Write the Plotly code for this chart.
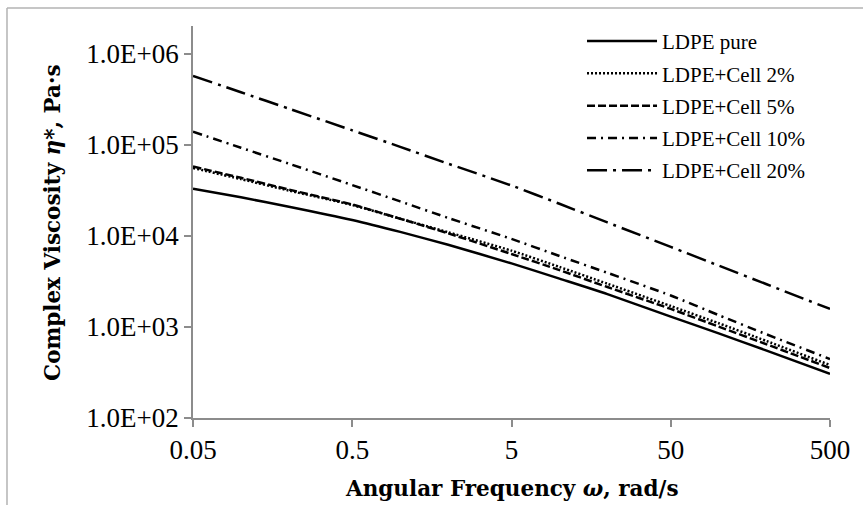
import plotly.graph_objects as go

# Angular frequency sweep (rad/s)
freq = [0.05, 0.1, 0.2, 0.5, 1, 2, 5, 10, 20, 50, 100, 200, 500]

# Complex viscosity (Pa·s) for each formulation
ldpe_pure = [33000, 26600, 21000, 15000, 11100, 8000, 5000, 3400, 2300, 1300, 850, 550, 305]
cell_2 = [56000, 42200, 31600, 21900, 15500, 11000, 6900, 4570, 2990, 1700, 1100, 700, 382]
cell_5 = [58000, 43600, 32400, 22200, 15500, 10700, 6340, 4220, 2750, 1580, 1010, 645, 354]
cell_10 = [140000, 93300, 62400, 36300, 24000, 15800, 9290, 6030, 3940, 2220, 1350, 830, 445]
cell_20 = [575000, 380000, 251000, 145000, 95500, 62400, 35900, 22600, 14100, 7590, 4730, 2950, 1580]

names = ["LDPE pure", "LDPE+Cell 2%", "LDPE+Cell 5%", "LDPE+Cell 10%", "LDPE+Cell 20%"]
series = [ldpe_pure, cell_2, cell_5, cell_10, cell_20]
dashes = ["solid", "2px,2px", "8px,3px", "9px,5px,2px,5px", "20px,6px,3px,6px"]

x_ticks = [0.05, 0.5, 5, 50, 500]
x_tick_text = ["0.05", "0.5", "5", "50", "500"]
y_ticks = [1e2, 1e3, 1e4, 1e5, 1e6]
y_tick_text = ["1.0E+02", "1.0E+03", "1.0E+04", "1.0E+05", "1.0E+06"]

fig = go.Figure()
for i, (name, vals, dash) in enumerate(zip(names, series, dashes)):
    fig.add_trace(go.Scatter(
        x=freq, y=vals, name=name, mode="lines",
        line=dict(color="black", width=2.5, dash=dash, shape="spline", smoothing=0.6),
        legendgroup=f"g{i}",
    ))

axis_color = "#8c8c8c"
tick_font = dict(family="Liberation Serif", size=27, color="black")
title_font = dict(family="DejaVu Serif", size=21.5, color="black")
frame = dict(color="#b3b3b3", width=1.5)

fig.update_layout(
    width=863, height=505,
    margin=dict(l=193, r=33, t=26, b=87),
    paper_bgcolor="white", plot_bgcolor="white",
    showlegend=True,
    legend=dict(
        x=0.6107, y=1.013, xanchor="left", yanchor="top",
        font=dict(family="Liberation Serif", size=21, color="black"),
        bgcolor="rgba(0,0,0,0)", itemwidth=70, tracegroupgap=2,
        traceorder="grouped",
    ),
    xaxis=dict(
        type="log", range=[-1.30103, 2.69897],
        tickvals=x_ticks, ticktext=x_tick_text, tickfont=tick_font,
        showgrid=False, zeroline=False,
        showline=True, linecolor=axis_color, linewidth=1.8,
        ticks="outside", ticklen=7, tickwidth=1.8, tickcolor=axis_color,
    ),
    yaxis=dict(
        type="log", range=[2, 6.308],
        tickvals=y_ticks, ticktext=y_tick_text, tickfont=tick_font,
        showgrid=False, zeroline=False,
        showline=True, linecolor=axis_color, linewidth=1.8,
        ticks="outside", ticklen=7, tickwidth=1.8, tickcolor=axis_color,
    ),
    annotations=[
        dict(
            text="<b>Angular Frequency <i>ω</i>, rad/s</b>",
            xref="paper", yref="paper", x=0.5, y=-0.1786,
            xanchor="center", yanchor="middle", showarrow=False, font=title_font,
        ),
        dict(
            text="<b>Complex Viscosity <i>η</i>*, Pa·s</b>",
            xref="paper", yref="paper", x=-0.2214, y=0.5, textangle=-90,
            xanchor="center", yanchor="middle", showarrow=False, font=title_font,
        ),
    ],
    shapes=[
        # chart frame: left and top edges
        dict(type="line", xref="paper", yref="paper",
             x0=-0.292, x1=-0.292, y0=1.046, y1=-0.23, line=frame),
        dict(type="line", xref="paper", yref="paper",
             x0=-0.292, x1=1.052, y0=1.046, y1=1.046, line=frame),
    ],
)

fig.write_html("out.html")
